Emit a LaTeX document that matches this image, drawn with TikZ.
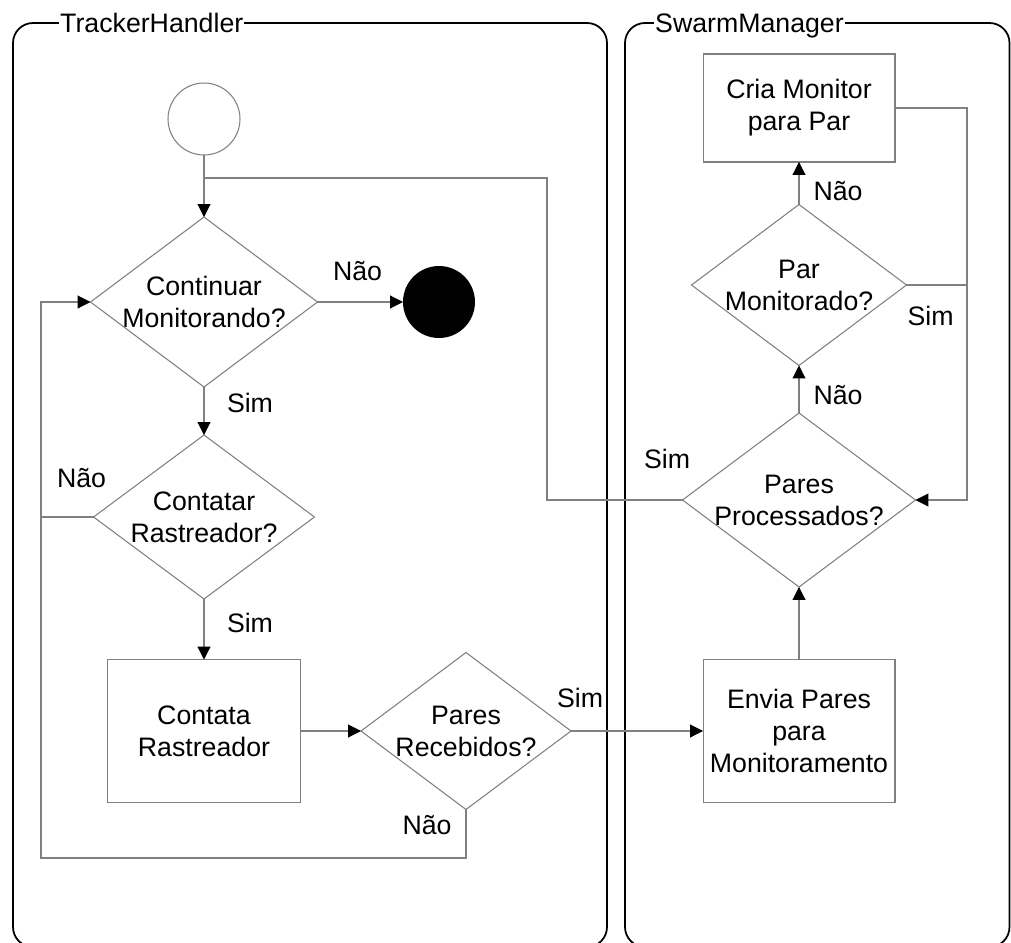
\documentclass[tikz,border=0pt]{standalone}
\usepackage{fontspec}
\setmainfont{Liberation Sans}
\usetikzlibrary{shapes.geometric, arrows.meta}
\usepackage{xcolor}
\definecolor{linegray}{rgb}{0.5, 0.5, 0.5}

\begin{document}
\begin{tikzpicture}[x=0.02cm, y=-0.02cm, font=\fontsize{15.2}{18.2}\selectfont]
	\tikzstyle{lane} = [draw=black, line width=1pt, rounded corners=0.4cm]
	\tikzstyle{lanetitle} = [fill=white, inner xsep=0.5pt, inner ysep=1pt, anchor=base west]
	\tikzstyle{decision} = [diamond, aspect=1.33, draw=linegray, line width=0.6pt, fill=white, inner sep=-0.1cm, outer sep=0pt, align=center]
	\tikzstyle{process} = [rectangle, draw=linegray, line width=0.6pt, fill=white, inner sep=2pt, outer sep=0pt, align=center]
	\tikzstyle{flow} = [draw=linegray, line width=0.6pt, -{Triangle[length=0.26cm, width=0.26cm, color=black]}]
	\tikzstyle{link} = [draw=linegray, line width=0.6pt]
	\tikzstyle{answer} = [anchor=base, inner sep=0pt]
	\useasboundingbox (0,0) rectangle (1011,943);

	\draw[lane] (13,23) rectangle (607,947);
	\draw[lane] (625,23) rectangle (1009.5,947);
	\node[lanetitle] (trackerh) at (59,32) {TrackerHandler};
	\node[lanetitle] (swarmm) at (654,32) {SwarmManager};

	\node[circle, draw=linegray, line width=0.6pt, fill=white, minimum size=1.44cm, inner sep=0pt, outer sep=0pt] (inicio) at (204,119) {};
	\node[circle, fill=black, minimum size=1.44cm, inner sep=0pt, outer sep=0pt] (fim) at (439,302) {};
	\node[decision, minimum width=4.54cm, minimum height=3.4cm] (continuar) at (204,302) {Continuar\\Monitorando?};
	\node[decision, minimum width=4.42cm, minimum height=3.28cm] (contatar) at (204,517) {Contatar\\Rastreador?};
	\node[process, minimum width=3.86cm, minimum height=2.86cm] (contata) at (204,731) {Contata\\Rastreador};
	\node[decision, minimum width=4.2cm, minimum height=3.14cm] (recebidos) at (466,731) {Pares\\Recebidos?};
	\node[process, minimum width=3.84cm, minimum height=2.86cm] (envia) at (799,731) {Envia Pares\\para\\Monitoramento};
	\node[decision, minimum width=4.66cm, minimum height=3.48cm] (processados) at (799,500) {Pares\\Processados?};
	\node[decision, minimum width=4.3cm, minimum height=3.22cm] (monitorado) at (799,285) {Par\\Monitorado?};
	\node[process, minimum width=3.84cm, minimum height=2.16cm] (cria) at (799,108) {Cria Monitor\\para Par};

	\coordinate (esq) at (41,858);
	\coordinate (dir) at (967,108);
	\coordinate (volta) at (547,178);

	\draw[flow] (inicio) -- (continuar);
	\draw[flow] (continuar) -- (fim);
	\draw[flow] (continuar) -- (contatar);
	\draw[flow] (contatar) -- (contata);
	\draw[flow] (contata) -- (recebidos);
	\draw[flow] (recebidos) -- (envia);
	\draw[flow] (envia) -- (processados);
	\draw[flow] (processados) -- (monitorado);
	\draw[flow] (monitorado) -- (cria);
	\draw[flow] (contatar.west) -- (contatar.west -| esq) |- (continuar.west);
	\draw[link] (recebidos.south) |- (esq) -- (contatar.west -| esq);
	\draw[flow] (cria.east) -- (dir) |- (processados.east);
	\draw[link] (monitorado.east) -- (monitorado.east -| dir);
	\draw[link] (processados.west) -| (volta) -- (volta -| inicio);

	\node[answer] (nao1) at (357.5,280) {Não};
	\node[answer] (sim1) at (250,412) {Sim};
	\node[answer] (nao2) at (81.5,487) {Não};
	\node[answer] (sim2) at (250,632) {Sim};
	\node[answer] (sim3) at (580,707) {Sim};
	\node[answer] (nao3) at (427,834) {Não};
	\node[answer] (sim4) at (667,468) {Sim};
	\node[answer] (nao4) at (838,404) {Não};
	\node[answer] (sim5) at (930.5,325) {Sim};
	\node[answer] (nao5) at (838,200) {Não};
\end{tikzpicture}
\end{document}
